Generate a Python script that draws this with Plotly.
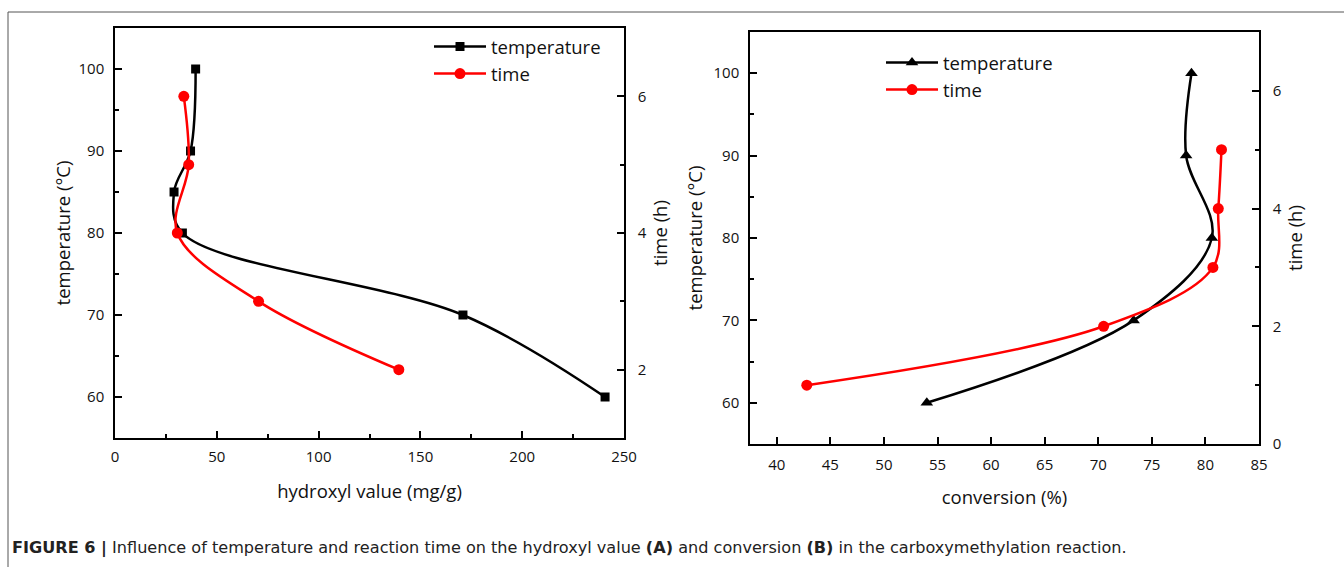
import plotly.graph_objects as go

W, H = 1344, 567

# ---------------- data ----------------
# Panel A: hydroxyl value vs temperature / time
temp_A = [60, 70, 80, 85, 90, 100]
hyd_temp_A = [240.7, 170.9, 33.1, 29.0, 37.1, 39.6]
time_A = [2, 3, 4, 5, 6]
hyd_time_A = [139.4, 70.5, 30.6, 36.2, 33.8]

# Panel B: conversion vs temperature / time
temp_B = [60, 70, 80, 90, 100]
conv_temp_B = [54.0, 73.3, 80.6, 78.2, 78.7]
time_B = [1, 2, 3, 4, 5]
conv_time_B = [42.8, 70.5, 80.7, 81.2, 81.5]

caption = ("<b>FIGURE 6 |</b> Influence of temperature and reaction time on the hydroxyl value "
           "<b>(A)</b> and conversion <b>(B)</b> in the carboxymethylation reaction.")

# ---------------- helpers ----------------
def px_x(p):
    return p / W

def px_y(p):
    return 1 - p / H

FONT = "Open Sans"
TICKFONT = dict(family=FONT, size=15, color="#111")
TITLEFONT = dict(family=FONT, size=18.5, color="#111")
LEGFONT = dict(family=FONT, size=18.5, color="#111")

fig = go.Figure()

# Panel A traces
fig.add_trace(go.Scatter(x=hyd_temp_A, y=temp_A, mode="lines+markers", name="temperature",
                         line=dict(color="black", width=2.5, shape="spline", smoothing=1),
                         marker=dict(symbol="square", size=9, color="black"),
                         xaxis="x", yaxis="y", legend="legend"))
fig.add_trace(go.Scatter(x=hyd_time_A, y=time_A, mode="lines+markers", name="time",
                         line=dict(color="#ff0000", width=2.5, shape="spline", smoothing=1),
                         marker=dict(symbol="circle", size=11, color="#ff0000"),
                         xaxis="x", yaxis="y2", legend="legend"))
# Panel B traces
fig.add_trace(go.Scatter(x=conv_temp_B, y=temp_B, mode="lines+markers", name="temperature",
                         line=dict(color="black", width=2.5, shape="spline", smoothing=1),
                         marker=dict(symbol="triangle-up", size=11, color="black"),
                         xaxis="x2", yaxis="y3", legend="legend2"))
fig.add_trace(go.Scatter(x=conv_time_B, y=time_B, mode="lines+markers", name="time",
                         line=dict(color="#ff0000", width=2.5, shape="spline", smoothing=1),
                         marker=dict(symbol="circle", size=11, color="#ff0000"),
                         xaxis="x2", yaxis="y4", legend="legend2"))

axis_common = dict(showline=True, linecolor="black", linewidth=1.5, ticks="inside",
                   tickcolor="black", tickwidth=1.5, ticklen=7, showgrid=False,
                   zeroline=False, tickfont=TICKFONT, automargin=False)

A_dom_x = [px_x(115), px_x(624)]
A_dom_y = [px_y(438), px_y(28)]
B_dom_x = [px_x(750), px_x(1259)]
B_dom_y = [px_y(444), px_y(32)]

MINOR = dict(ticks="inside", ticklen=4, tickcolor="black", tickwidth=1.5)

fig.update_layout(
    width=W, height=H,
    margin=dict(l=0, r=0, t=0, b=0),
    paper_bgcolor="white", plot_bgcolor="white",
    showlegend=True,
    xaxis=dict(domain=A_dom_x, anchor="y", range=[0, 250], dtick=50, tick0=0,
               mirror=True, ticklabelstandoff=4,
               minor=dict(dtick=25, **MINOR),
               title=dict(text="hydroxyl value (mg/g)", font=TITLEFONT, standoff=20),
               **axis_common),
    yaxis=dict(domain=A_dom_y, anchor="x", range=[55, 105], dtick=10, tick0=0,
               ticklabelstandoff=6,
               minor=dict(dtick=5, **MINOR),
               title=dict(text="temperature (°C)", font=TITLEFONT, standoff=3),
               **axis_common),
    yaxis2=dict(overlaying="y", anchor="x", side="right", range=[1, 7], dtick=2, tick0=0,
                ticklabelstandoff=9,
                minor=dict(dtick=1, **MINOR),
                title=dict(text="time (h)", font=TITLEFONT, standoff=8),
                **axis_common),
    xaxis2=dict(domain=B_dom_x, anchor="y3", range=[37.5, 85], dtick=5, tick0=0,
                mirror=True, ticklabelstandoff=6,
                title=dict(text="conversion (%)", font=TITLEFONT, standoff=18),
                **axis_common),
    yaxis3=dict(domain=B_dom_y, anchor="x2", range=[55, 105], dtick=10, tick0=0,
                ticklabelstandoff=6,
                minor=dict(dtick=5, **MINOR),
                title=dict(text="temperature (°C)", font=TITLEFONT, standoff=6),
                **axis_common),
    yaxis4=dict(overlaying="y3", anchor="x2", side="right", range=[0, 7], dtick=2, tick0=0,
                ticklabelstandoff=9,
                minor=dict(dtick=1, **MINOR),
                title=dict(text="time (h)", font=TITLEFONT, standoff=8),
                **axis_common),
    legend=dict(x=px_x(429), y=px_y(28), xanchor="left", yanchor="top",
                bgcolor="rgba(0,0,0,0)", font=LEGFONT, itemwidth=52, tracegroupgap=0),
    legend2=dict(x=px_x(881), y=px_y(44), xanchor="left", yanchor="top",
                 bgcolor="rgba(0,0,0,0)", font=LEGFONT, itemwidth=52, tracegroupgap=0),
    annotations=[dict(text=caption, xref="paper", yref="paper", x=px_x(10), y=px_y(548),
                      xanchor="left", yanchor="middle", showarrow=False,
                      font=dict(family="DejaVu Sans, Liberation Sans, sans-serif",
                                size=16.1, color="#222"))],
    shapes=[
        dict(type="line", xref="paper", yref="paper", x0=px_x(8), x1=1.0, y0=px_y(12), y1=px_y(12),
             line=dict(color="#555", width=1)),
        dict(type="line", xref="paper", yref="paper", x0=px_x(8), x1=px_x(8), y0=px_y(12), y1=0.0,
             line=dict(color="#555", width=1)),
    ],
)

fig.write_html("out.html")
